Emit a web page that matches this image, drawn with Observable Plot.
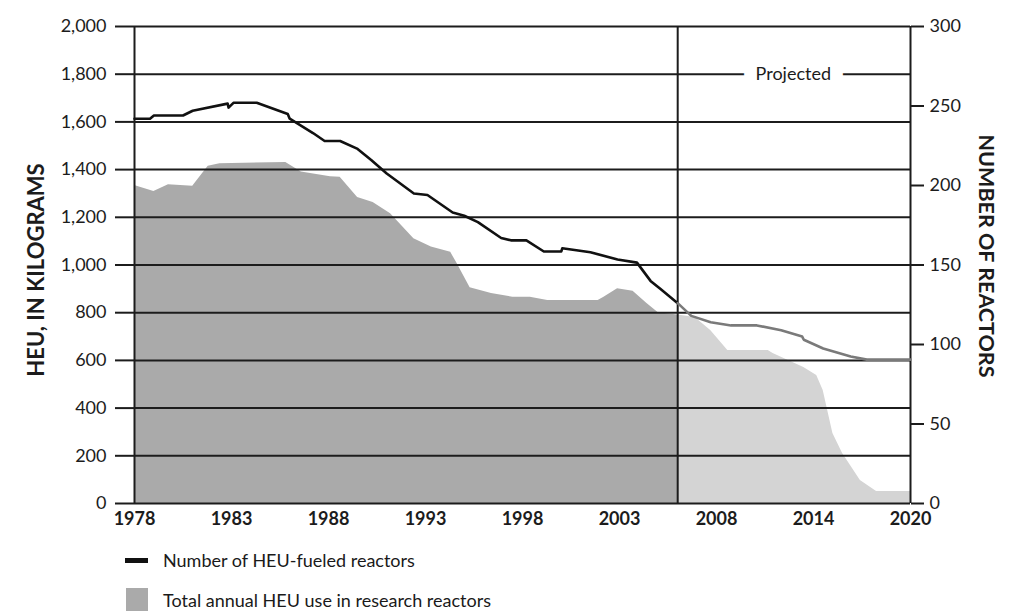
<!DOCTYPE html>
<html>
<head>
<meta charset="utf-8">
<script src="https://cdn.jsdelivr.net/npm/d3@7"></script>
<script src="https://cdn.jsdelivr.net/npm/@observablehq/plot@0.6"></script>
<style>
  html, body { margin: 0; padding: 0; background: #fff; }
  body { width: 1024px; height: 615px; position: relative; overflow: hidden; font-family: Lato, "Open Sans", sans-serif; color: #1a1a1a; }
  #chart { position: absolute; left: 0; top: 0; }
  .legend-row { position: absolute; left: 0; height: 24px; display: flex; align-items: center; font-size: 18px; }
  .legend-row .txt { position: absolute; left: 163px; white-space: nowrap; }
</style>
</head>
<body>
<div id="chart"></div>
<div class="legend-row" style="top:548px;">
  <div style="position:absolute;left:125px;top:10px;width:23px;height:5px;background:#111;"></div>
  <span class="txt">Number of HEU-fueled reactors</span>
</div>
<div class="legend-row" style="top:588px;">
  <div style="position:absolute;left:126px;top:0px;width:22px;height:23px;background:#aaaaaa;"></div>
  <span class="txt">Total annual HEU use in research reactors</span>
</div>
<script>
// ---- Data ----
// Total annual HEU use (kg), historical
const heuYears = [1978, 1979, 1979.75, 1981, 1981.8, 1982.4, 1985.8, 1986.6, 1988.1, 1988.6, 1989.5, 1990.3, 1991.2, 1992.4, 1993.3, 1994.3, 1994.6, 1995.3, 1996.4, 1997.5, 1998.4, 1999.3, 2001.9, 2002.2, 2002.9, 2003.7, 2004.4, 2005, 2006];
const heuKg    = [1333, 1308, 1337, 1330, 1414, 1425, 1430, 1390, 1370, 1368, 1283, 1262, 1215, 1110, 1075, 1053, 1010, 905, 880, 865, 865, 851, 851, 865, 900, 890, 840, 800, 790];
// Total annual HEU use (kg), projected
const projYears = [2006, 2006.9, 2007.7, 2008.7, 2011.2, 2011.5, 2013.4, 2014.2, 2014.6, 2015.2, 2015.8, 2016.9, 2017.9, 2020];
const projKg    = [790, 780, 725, 641, 641, 629, 570, 537, 474, 293, 210, 96, 50, 50];
// Number of HEU-fueled reactors, historical
const reactorYears = [1978, 1978.8, 1979, 1980.5, 1981, 1982.8, 1982.85, 1983.1, 1984.3, 1985.9, 1986, 1987.2, 1987.8, 1988.6, 1989.5, 1990.2, 1991, 1992.4, 1993.1, 1994.4, 1995, 1995.7, 1996.9, 1997.4, 1998.2, 1999.1, 2000, 2000.05, 2001.5, 2002.9, 2003.9, 2004.6, 2005.1, 2006];
const reactorCount = [242, 242, 244, 244, 247, 251.5, 249, 252, 252, 245, 242, 233, 228, 228, 223, 216, 207.5, 195, 194, 183, 181, 177, 167, 165.5, 165.5, 158.5, 158.5, 160.5, 158, 153.5, 151.5, 140, 135, 126];
// Number of HEU-fueled reactors, projected
const projReactorYears = [2006, 2006.7, 2007.7, 2008.9, 2010.5, 2012, 2013.3, 2013.4, 2014.6, 2016.3, 2017.3, 2020];
const projReactorCount = [126, 118, 114, 112, 112, 109, 105, 103, 97.5, 92.5, 90.5, 90.5];

// Axes / ticks
const xTicks = [1978, 1983, 1988, 1993, 1998, 2003, 2008, 2014, 2020];
const kgTicks = [0, 200, 400, 600, 800, 1000, 1200, 1400, 1600, 1800, 2000];
const reactorTicks = [0, 50, 100, 150, 200, 250, 300];
const projectedStart = 2006;
const projectedLabel = "Projected";
const leftLabel = "HEU, IN KILOGRAMS";
const rightLabel = "NUMBER OF REACTORS";

// ---- Build ----
const K = 2000 / 300; // kg-axis units per reactor
const heuHist = heuYears.map((y, i) => ({year: y, kg: heuKg[i]}));
const heuProj = projYears.map((y, i) => ({year: y, kg: projKg[i]}));
const rHist = reactorYears.map((y, i) => ({year: y, r: reactorCount[i]}));
const rProj = projReactorYears.map((y, i) => ({year: y, r: projReactorCount[i]}));

const ink = "#1c1c1c";
const chart = Plot.plot({
  width: 1024,
  height: 535,
  marginTop: 26,
  marginBottom: 32,
  marginLeft: 134,
  marginRight: 114,
  style: {fontFamily: "Lato, 'Open Sans', sans-serif", fontSize: "18px", color: ink, background: "white"},
  x: {type: "linear", domain: [1978, 2008, 2020], range: [134, 716, 910]},
  y: {domain: [0, 2000]},
  marks: [
    Plot.areaY(heuHist, {x: "year", y: "kg", fill: "#aaaaaa"}),
    Plot.areaY(heuProj, {x: "year", y: "kg", fill: "#d4d4d4"}),
    Plot.ruleY(kgTicks, {stroke: ink, strokeWidth: 2}),
    Plot.ruleX([1978, 2020, projectedStart], {stroke: ink, strokeWidth: 2}),
    Plot.text([projectedLabel], {x: 2012.75, y: 1800, text: d => d, fill: ink, stroke: "white", strokeWidth: 26, fontSize: 18}),
    Plot.lineY(rHist, {x: "year", y: d => d.r * K, stroke: "#111", strokeWidth: 2.6}),
    Plot.lineY(rProj, {x: "year", y: d => d.r * K, stroke: "#7a7a7a", strokeWidth: 2.6}),
    Plot.axisY({anchor: "left", ticks: kgTicks, tickFormat: d3.format(","), tickSize: 19, tickPadding: 9, strokeWidth: 2, label: null, fontSize: 18}),
    Plot.axisY({anchor: "right", ticks: reactorTicks.map(r => r * K), tickFormat: d => String(Math.round(d / K)), tickSize: 13, tickPadding: 6, strokeWidth: 2, label: null, fontSize: 18}),
    Plot.axisX({ticks: xTicks, tickFormat: d => String(d), tickSize: 0, tickPadding: 9, label: null, fontWeight: "bold", fontSize: 18}),
    Plot.text([leftLabel], {frameAnchor: "left", textAnchor: "middle", text: d => d, dx: -98, dy: 5, rotate: -90, fontWeight: "bold", fontSize: 22, fill: ink}),
    Plot.text([rightLabel], {frameAnchor: "right", textAnchor: "middle", text: d => d, dx: 75, dy: -9, rotate: 90, fontWeight: "bold", fontSize: 21.5, fill: ink})
  ]
});
document.getElementById("chart").appendChild(chart);
</script>
</body>
</html>
